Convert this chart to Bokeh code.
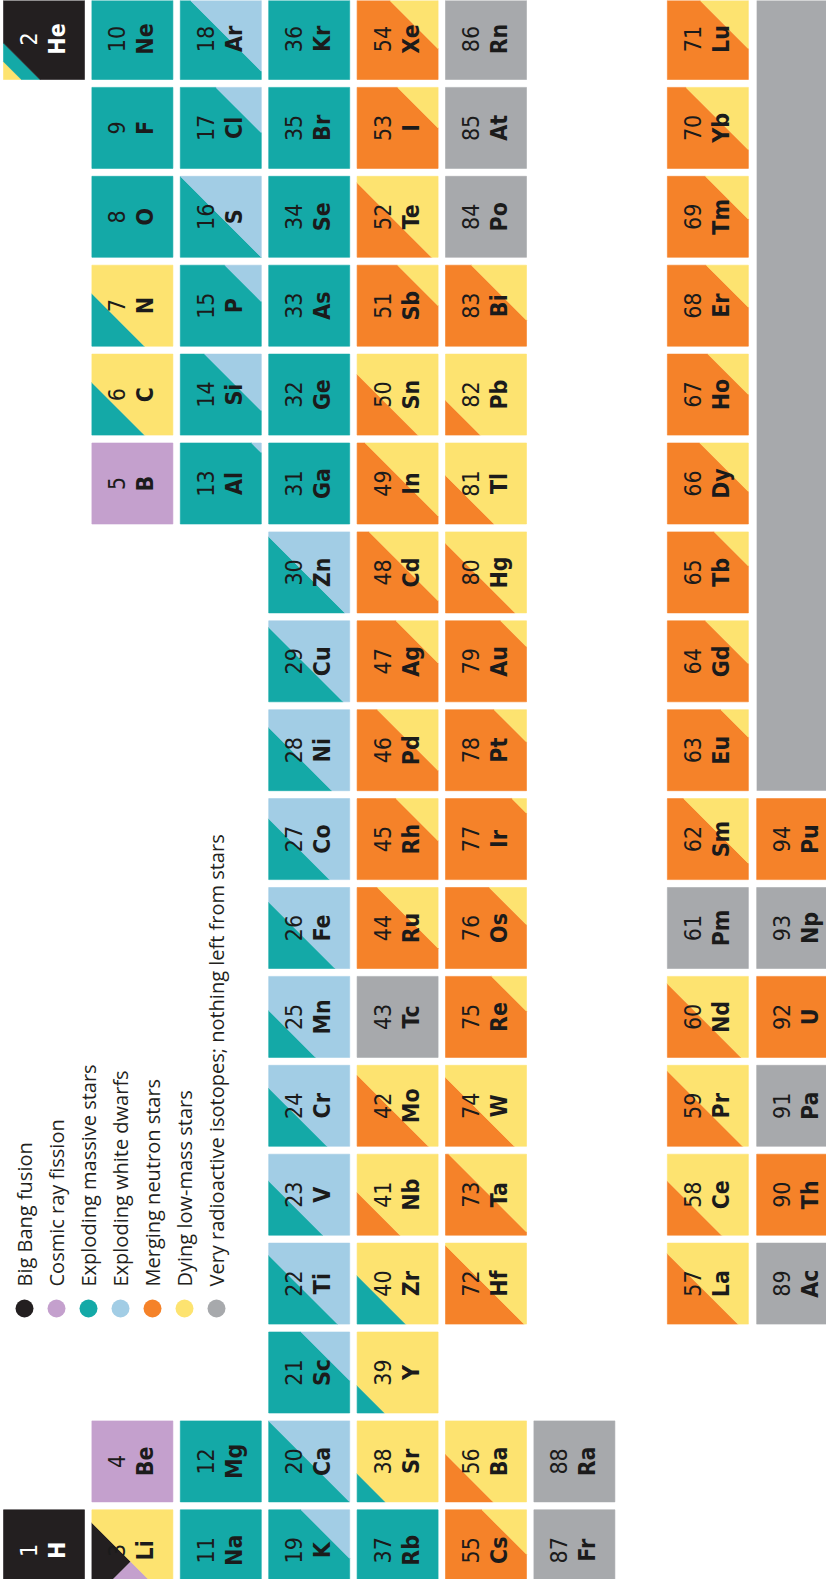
import math
from bokeh.plotting import figure
from bokeh.models import Range1d, ColumnDataSource
from bokeh.core.properties import value
from bokeh.embed import file_html
from bokeh.resources import INLINE

# ---------------- data ----------------
SOURCE_COLORS = {
    "bb": "#231f20",   # Big Bang fusion
    "cr": "#c4a0cd",   # Cosmic ray fission
    "ms": "#14a9a7",   # Exploding massive stars
    "wd": "#a2cde5",   # Exploding white dwarfs
    "ns": "#f58229",   # Merging neutron stars
    "lm": "#fde370",   # Dying low-mass stars
    "rad": "#a7a9ac",  # Very radioactive isotopes
}
LEGEND_KEYS = ["bb", "cr", "ms", "wd", "ns", "lm", "rad"]
LEGEND_LABELS = [
    "Big Bang fusion",
    "Cosmic ray fission",
    "Exploding massive stars",
    "Exploding white dwarfs",
    "Merging neutron stars",
    "Dying low-mass stars",
    "Very  radioactive isotopes; nothing left from stars",
]

Z = [1, 2,
     3, 4, 5, 6, 7, 8, 9, 10,
     11, 12, 13, 14, 15, 16, 17, 18,
     19, 20, 21, 22, 23, 24, 25, 26, 27, 28, 29, 30, 31, 32, 33, 34, 35, 36,
     37, 38, 39, 40, 41, 42, 43, 44, 45, 46, 47, 48, 49, 50, 51, 52, 53, 54,
     55, 56, 72, 73, 74, 75, 76, 77, 78, 79, 80, 81, 82, 83, 84, 85, 86,
     87, 88,
     57, 58, 59, 60, 61, 62, 63, 64, 65, 66, 67, 68, 69, 70, 71,
     89, 90, 91, 92, 93, 94]
SYMBOL = ["H", "He",
          "Li", "Be", "B", "C", "N", "O", "F", "Ne",
          "Na", "Mg", "Al", "Si", "P", "S", "Cl", "Ar",
          "K", "Ca", "Sc", "Ti", "V", "Cr", "Mn", "Fe", "Co", "Ni", "Cu", "Zn", "Ga", "Ge", "As", "Se", "Br", "Kr",
          "Rb", "Sr", "Y", "Zr", "Nb", "Mo", "Tc", "Ru", "Rh", "Pd", "Ag", "Cd", "In", "Sn", "Sb", "Te", "I", "Xe",
          "Cs", "Ba", "Hf", "Ta", "W", "Re", "Os", "Ir", "Pt", "Au", "Hg", "Tl", "Pb", "Bi", "Po", "At", "Rn",
          "Fr", "Ra",
          "La", "Ce", "Pr", "Nd", "Pm", "Sm", "Eu", "Gd", "Tb", "Dy", "Ho", "Er", "Tm", "Yb", "Lu",
          "Ac", "Th", "Pa", "U", "Np", "Pu"]
ROW = ([1] * 2 + [2] * 8 + [3] * 8 + [4] * 18 + [5] * 18 + [6] * 17 + [7] * 2
       + ["La"] * 15 + ["Ac"] * 6)
GROUP = [1, 18,
         1, 2, 13, 14, 15, 16, 17, 18,
         1, 2, 13, 14, 15, 16, 17, 18,
         1, 2, 3, 4, 5, 6, 7, 8, 9, 10, 11, 12, 13, 14, 15, 16, 17, 18,
         1, 2, 3, 4, 5, 6, 7, 8, 9, 10, 11, 12, 13, 14, 15, 16, 17, 18,
         1, 2, 4, 5, 6, 7, 8, 9, 10, 11, 12, 13, 14, 15, 16, 17, 18,
         1, 2,
         4, 5, 6, 7, 8, 9, 10, 11, 12, 13, 14, 15, 16, 17, 18,
         4, 5, 6, 7, 8, 9]
# origins, listed from the lower-left corner of a cell towards its upper-right corner
SOURCES = ["bb", "lm ms bb",
           "bb lm", "cr", "cr", "ms lm", "ms lm", "ms", "ms", "ms",
           "ms", "ms", "ms wd", "ms wd", "ms wd", "ms wd", "ms wd", "ms wd",
           "ms wd", "ms wd", "ms wd", "ms wd", "ms wd", "ms wd", "ms wd", "ms wd", "ms wd", "ms wd", "ms wd", "ms wd",
           "ms", "ms", "ms", "ms", "ms", "ms",
           "ms", "ms lm", "ms lm", "ms lm", "ns lm", "ns lm", "rad", "ns lm", "ns lm", "ns lm", "ns lm", "ns lm",
           "ns lm", "ns lm", "ns lm", "ns lm", "ns lm", "ns lm",
           "ns lm", "ns lm", "ns lm", "ns lm", "ns lm", "ns lm", "ns lm", "ns lm", "ns lm", "ns lm", "ns lm",
           "ns lm", "ns lm", "ns lm", "rad", "rad", "rad",
           "rad", "rad",
           "ns lm", "ns lm", "ns lm", "ns lm", "rad", "ns lm", "ns lm", "ns lm", "ns lm", "ns lm", "ns lm",
           "ns lm", "ns lm", "ns lm", "ns lm",
           "rad", "ns", "rad", "ns", "rad", "ns"]
# diagonal split positions (u - v along the cell) between successive origins
SPLITS = [[], [-0.78, -0.55],
          [-0.16], [], [], [-0.35], [-0.35], [], [], [],
          [], [], [0.88], [0.3], [0.55], [0.0], [0.44], [0.1],
          [0.4], [0.0], [0.4], [-0.15], [-0.33], [-0.28], [-0.42], [-0.18], [-0.25], [-0.22], [-0.08], [-0.06],
          [], [], [], [], [], [],
          [], [-0.65], [-0.66], [-0.4], [-0.47], [-0.12], [], [0.25], [0.48], [0.25], [0.48], [0.15],
          [0.1], [-0.25], [0.5], [-0.08], [0.5], [0.38],
          [0.45], [-0.41], [-0.03], [0.04], [-0.15], [0.57], [0.54], [0.82], [0.6], [0.68], [-0.14],
          [-0.4], [-0.57], [0.32], [], [], [],
          [], [],
          [-0.13], [-0.33], [-0.07], [-0.09], [], [0.2], [0.66], [0.47], [0.58], [0.4], [0.5],
          [0.48], [0.47], [0.23], [0.38],
          [], [], [], [], [], []]
# lithium: its Big Bang part is shared with cosmic-ray fission (cross split u + v)
CROSS_SPLIT = {3: ("cr", 1.12)}
# empty actinide slots (Am..Lr) drawn as one grey bar
ACT_BAR_GROUPS = (10, 18)
ACT_BAR_SOURCE = "rad"

# ---------------- layout ----------------
PITCH_X = 88.4   # px between columns
PITCH_Y = 88.9   # px between rows
CELL_W = 81.0 / PITCH_X
CELL_H = 81.0 / PITCH_Y
FIG_W, FIG_H = 826, 1579


def col_of(row):
    if row == "La":
        return 8.51
    if row == "Ac":
        return 9.52
    return float(row)


def px_to_x(px):
    return 1 + (px - 51.5) / PITCH_X


def px_to_y(py):
    return 18 - (py - 46.5) / PITCH_Y


def clip(poly, a, b, c):
    """keep a*u + b*v <= c"""
    out = []
    n = len(poly)
    for i in range(n):
        P = poly[i]
        Q = poly[(i + 1) % n]
        fp = a * P[0] + b * P[1] - c
        fq = a * Q[0] + b * Q[1] - c
        if fp <= 0:
            out.append(P)
        if (fp < 0 < fq) or (fq < 0 < fp):
            s = fp / (fp - fq)
            out.append((P[0] + s * (Q[0] - P[0]), P[1] + s * (Q[1] - P[1])))
    return out


xs, ys, fills = [], [], []
SQUARE = [(0, 0), (1, 0), (1, 1), (0, 1)]
for z, row, g, src, spl in zip(Z, ROW, GROUP, SOURCES, SPLITS):
    cx = col_of(row)
    x0 = cx - CELL_W / 2
    ytop = g + CELL_H / 2
    keys = src.split()
    bounds = [-3.0] + spl + [3.0]
    for k, key in enumerate(keys):
        poly = clip(SQUARE, -1, 1, -bounds[k])
        poly = clip(poly, 1, -1, bounds[k + 1])
        pieces = [(poly, key)]
        if z in CROSS_SPLIT and k == 0:
            other, cval = CROSS_SPLIT[z]
            pieces = [(clip(poly, 1, 1, cval), key), (clip(poly, -1, -1, -cval), other)]
        for pl, kk in pieces:
            if len(pl) < 3:
                continue
            xs.append([x0 + u * CELL_W for u, v in pl])
            ys.append([ytop - v * CELL_H for u, v in pl])
            fills.append(SOURCE_COLORS[kk])

p = figure(width=FIG_W, height=FIG_H,
           x_range=Range1d(px_to_x(8), px_to_x(8 + FIG_W)),
           y_range=Range1d(px_to_y(8 + FIG_H), px_to_y(8)),
           output_backend="svg", toolbar_location=None,
           x_axis_location=None, y_axis_location=None, min_border=0)
p.grid.visible = False
p.outline_line_color = None
p.background_fill_color = "white"
p.border_fill_color = "white"

p.patches(xs=xs, ys=ys, fill_color=fills, line_color=fills, line_width=0.6)

# grey bar for the remaining actinides
acx = col_of("Ac")
p.quad(left=[acx - CELL_W / 2], right=[acx + CELL_W / 2],
       bottom=[ACT_BAR_GROUPS[0] - CELL_H / 2], top=[ACT_BAR_GROUPS[1] + CELL_H / 2],
       fill_color=SOURCE_COLORS[ACT_BAR_SOURCE], line_color=None)

# labels
NUM_FONT = "'Liberation Sans Narrow', 'DejaVu Sans Condensed', 'Liberation Sans'"
dn = 15.5 / PITCH_X
ds = 13.0 / PITCH_X
tcol = ["#ffffff" if (s == ["bb"] or z == 2) else "#1b1b1b"
        for z, s in zip(Z, [x.split() for x in SOURCES])]
lab = ColumnDataSource(dict(
    xn=[col_of(r) - dn for r in ROW],
    xs=[col_of(r) + ds for r in ROW],
    y=[float(g) for g in GROUP],
    num=[str(z) for z in Z],
    sym=SYMBOL,
    col=tcol,
))
p.text(x="xn", y="y", text="num", source=lab, angle=math.pi / 2,
       text_align="center", text_baseline="middle",
       text_font=value(NUM_FONT), text_font_size="23px", text_color="col")
p.text(x="xs", y="y", text="sym", source=lab, angle=math.pi / 2,
       text_align="center", text_baseline="middle",
       text_font=value(NUM_FONT), text_font_style="bold",
       text_font_size="23px", text_color="col")

# legend
lx = [px_to_x(32 + 32 * i) for i in range(len(LEGEND_KEYS))]
p.scatter(x=lx, y=[px_to_y(1316)] * len(lx), size=18, marker="circle",
          fill_color=[SOURCE_COLORS[k] for k in LEGEND_KEYS], line_color=None)
p.text(x=lx, y=[px_to_y(1294)] * len(lx), text=LEGEND_LABELS, angle=math.pi / 2,
       text_align="left", text_baseline="middle",
       text_font=value("Open Sans"), text_font_size="20px", text_color="#231f20")

open("out.html", "w").write(file_html(p, INLINE))
